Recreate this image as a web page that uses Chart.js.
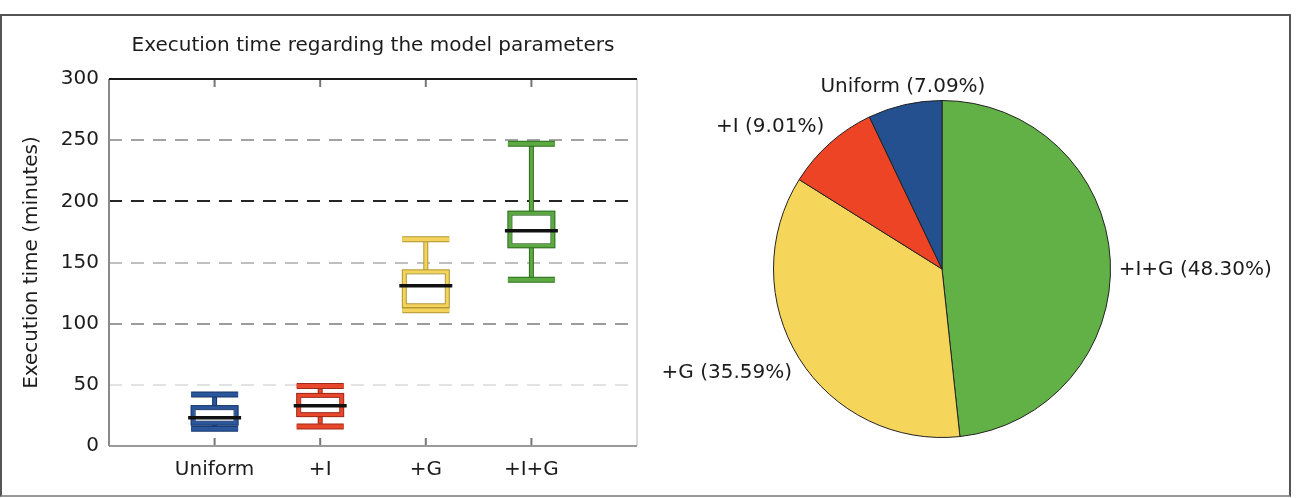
<!DOCTYPE html>
<html>
<head>
<meta charset="utf-8">
<script src="https://cdn.jsdelivr.net/npm/chart.js@4.4.1/dist/chart.umd.min.js"></script>
<style>
  body { margin: 0; background: #fff; }
  #wrap { position: relative; width: 1296px; height: 498px; overflow: hidden; }
  #frame { position: absolute; left: 0; top: 14px; width: 1287px; height: 479px;
           border: 2px solid #555; border-bottom-color: #999; }
  canvas { position: absolute; top: 0; }
  #box { left: 0; }
  #pie { left: 600px; }
</style>
</head>
<body>
<div id="wrap">
  <div id="frame"></div>
  <canvas id="box" width="660" height="498"></canvas>
  <canvas id="pie" width="696" height="498"></canvas>
</div>
<script>
// box plot statistics per model (minutes)
const categories = ['Uniform', '+I', '+G', '+I+G'];
const whiskerLow  = [14, 16, 111, 136];
const quartile1   = [17, 24, 113, 162];
const medians     = [23, 33, 131, 176];
const quartile3   = [33, 43, 144, 192];
const whiskerHigh = [42, 49, 169, 247];
const yTicks = [0, 50, 100, 150, 200, 250, 300];

// share of the total execution time (%)
const shares = [7.09, 9.01, 35.59, 48.30];

const boxColors  = ['#2a569c', '#e9472b', '#f3d35b', '#5ba941'];
const boxEdges   = ['#17346a', '#9c2a17', '#b09632', '#2f6c1f'];
const pieColors  = ['#24508f', '#ee4426', '#f6d65a', '#62b146'];
const gridColors = { 50: '#e2e2e2', 100: '#9c9c9c', 150: '#bfbfbf', 200: '#262626', 250: '#a3a3a3' };

Chart.defaults.font.family = 'DejaVu Sans';
Chart.defaults.font.size = 20;
Chart.defaults.color = '#1c1c1c';

// empty slots on both sides so the four boxes sit at 1..4 of a 0..5 axis
const xLabels = ['', ...categories, ''];
const pad = arr => [null, ...arr, null];

function edgedLine(ctx, x1, y1, x2, y2, w, color, edge) {
  ctx.lineCap = 'butt';
  ctx.beginPath(); ctx.moveTo(x1, y1); ctx.lineTo(x2, y2);
  ctx.strokeStyle = edge; ctx.lineWidth = w + 2; ctx.stroke();
  ctx.strokeStyle = color; ctx.lineWidth = w; ctx.stroke();
}

// plot frame and inward tick marks, matplotlib style
const framePlugin = {
  id: 'frame',
  beforeDatasetsDraw(chart) {
    const { ctx, chartArea: a, scales: { x } } = chart;
    ctx.save();
    ctx.strokeStyle = '#777'; ctx.lineWidth = 2;
    for (let i = 1; i <= categories.length; i++) {
      const px = x.getPixelForTick(i);
      ctx.beginPath();
      ctx.moveTo(px, a.top); ctx.lineTo(px, a.top + 8);
      ctx.moveTo(px, a.bottom); ctx.lineTo(px, a.bottom - 8);
      ctx.stroke();
    }
    const side = (x1, y1, x2, y2, c, w) => {
      ctx.beginPath(); ctx.moveTo(x1, y1); ctx.lineTo(x2, y2);
      ctx.strokeStyle = c; ctx.lineWidth = w; ctx.stroke();
    };
    side(a.right, a.top, a.right, a.bottom, '#cfcfcf', 1.5);
    side(a.left, a.bottom, a.right, a.bottom, '#9a9a9a', 2);
    side(a.left, a.top, a.left, a.bottom, '#8a8a8a', 2);
    side(a.left, a.top, a.right, a.top, '#1a1a1a', 2);
    ctx.restore();
  }
};

// whiskers, caps, box outlines and medians on top of the floating bars
const whiskerPlugin = {
  id: 'whiskers',
  afterDatasetsDraw(chart) {
    const { ctx, scales: { y } } = chart;
    const meta = chart.getDatasetMeta(0);
    ctx.save();
    categories.forEach((c, i) => {
      const bar = meta.data[i + 1];
      const x = bar.x, half = bar.width / 2;
      const yLo = y.getPixelForValue(whiskerLow[i]);
      const yQ1 = y.getPixelForValue(quartile1[i]);
      const yMed = y.getPixelForValue(medians[i]);
      const yQ3 = y.getPixelForValue(quartile3[i]);
      const yHi = y.getPixelForValue(whiskerHigh[i]);
      edgedLine(ctx, x, yQ3, x, yHi, 3, boxColors[i], boxEdges[i]);
      edgedLine(ctx, x, yQ1, x, yLo, 3, boxColors[i], boxEdges[i]);
      edgedLine(ctx, x - half, yHi, x + half, yHi, 4, boxColors[i], boxEdges[i]);
      edgedLine(ctx, x - half, yLo, x + half, yLo, 4, boxColors[i], boxEdges[i]);
      ctx.strokeStyle = boxEdges[i]; ctx.lineWidth = 1;
      ctx.strokeRect(x - half, yQ3, 2 * half, yQ1 - yQ3);
      ctx.strokeRect(x - half + 4, yQ3 + 4, 2 * half - 8, yQ1 - yQ3 - 8);
      ctx.beginPath();
      ctx.moveTo(x - half - 3, yMed); ctx.lineTo(x + half + 3, yMed);
      ctx.strokeStyle = '#111'; ctx.lineWidth = 3.5; ctx.stroke();
    });
    ctx.restore();
  }
};

new Chart(document.getElementById('box'), {
  type: 'bar',
  data: {
    labels: xLabels,
    datasets: [{
      data: pad(categories.map((c, i) => [quartile1[i], quartile3[i]])),
      backgroundColor: '#ffffff',
      borderColor: pad(boxColors),
      borderWidth: 4,
      borderSkipped: false,
      barThickness: 47
    }]
  },
  options: {
    responsive: false,
    animation: false,
    events: [],
    layout: { padding: { left: 0, right: 23, top: 0, bottom: 0 } },
    plugins: {
      legend: { display: false },
      tooltip: { enabled: false },
      title: {
        display: true,
        fullSize: false,
        text: 'Execution time regarding the model parameters',
        font: { size: 20, weight: 'normal' },
        color: '#1c1c1c',
        padding: { top: 34, bottom: 21 }
      }
    },
    scales: {
      x: {
        offset: false,
        grid: { display: false, drawTicks: false },
        border: { display: false },
        ticks: { padding: 12, font: { size: 20 }, maxRotation: 0, autoSkip: false },
        afterFit: s => { s.height = 52; }
      },
      y: {
        min: 0, max: 300,
        afterBuildTicks: s => { s.ticks = yTicks.map(v => ({ value: v })); },
        grid: {
          drawTicks: false,
          lineWidth: 2,
          color: c => gridColors[c.tick.value] || 'rgba(0,0,0,0)'
        },
        border: { display: false, dash: [13, 9] },
        ticks: { padding: 10, font: { size: 20 } },
        title: {
          display: true,
          text: 'Execution time (minutes)',
          font: { size: 20, weight: 'normal' },
          padding: { top: 20, bottom: 0 }
        },
        afterFit: s => { s.width = 109; }
      }
    }
  },
  plugins: [framePlugin, whiskerPlugin]
});

// pie: Chart.js turns clockwise from the top, so go through the categories backwards
const pieLabels = categories.map((c, i) => `${c} (${shares[i].toFixed(2)}%)`).reverse();

const pieLabelPlugin = {
  id: 'pieLabels',
  afterDraw(chart) {
    const ctx = chart.ctx;
    ctx.save();
    ctx.font = '20px "DejaVu Sans"';
    ctx.fillStyle = '#1c1c1c';
    chart.getDatasetMeta(0).data.forEach((arc, k) => {
      const mid = (arc.startAngle + arc.endAngle) / 2;
      const r = arc.outerRadius * 1.05;
      const cx = Math.cos(mid), sy = Math.sin(mid);
      ctx.textAlign = Math.abs(cx) < 0.3 ? 'center' : (cx > 0 ? 'left' : 'right');
      ctx.textBaseline = sy < -0.3 ? 'bottom' : 'top';
      ctx.fillText(pieLabels[k], arc.x + cx * r, arc.y + sy * r);
    });
    ctx.restore();
  }
};

new Chart(document.getElementById('pie'), {
  type: 'pie',
  data: {
    labels: categories.slice().reverse(),
    datasets: [{
      data: shares.slice().reverse(),
      backgroundColor: pieColors.slice().reverse(),
      borderColor: '#222',
      borderWidth: 1
    }]
  },
  options: {
    responsive: false,
    animation: false,
    events: [],
    layout: { padding: { left: 173, right: 185, top: 100, bottom: 60 } },
    plugins: { legend: { display: false }, tooltip: { enabled: false } }
  },
  plugins: [pieLabelPlugin]
});
</script>
</body>
</html>
